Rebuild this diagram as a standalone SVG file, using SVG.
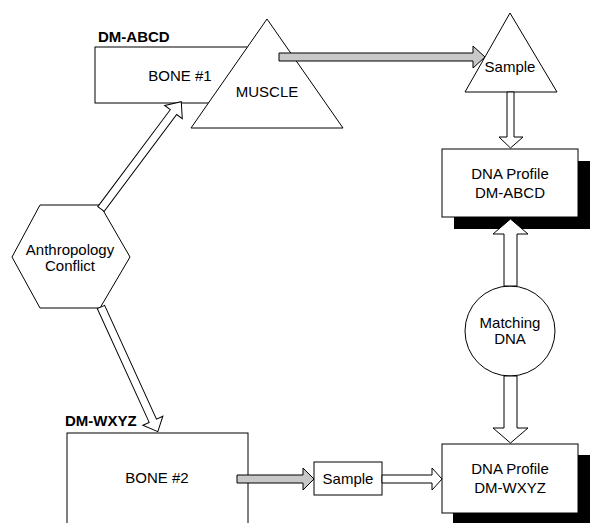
<svg xmlns="http://www.w3.org/2000/svg" width="590" height="523" viewBox="0 0 590 523">
<style>
.s{fill:#fff;stroke:#000;stroke-width:1}
.g{fill:#c8c8c8;stroke:#000;stroke-width:1}
.w{fill:#fff;stroke:#000;stroke-width:1}
.sh{fill:#000}
text{font-family:"Liberation Sans",Arial,sans-serif;font-size:15px;fill:#000;text-anchor:middle}
.lbl{font-weight:bold;text-anchor:start}
</style>
<rect width="590" height="523" fill="#fff"/>
<g id="bone1">
<rect class="s" x="95" y="47" width="170" height="56"/>
<text x="180" y="81">BONE #1</text>
</g>
<g id="label-abcd"><text class="lbl" x="98" y="42">DM-ABCD</text></g>
<g id="muscle">
<polygon class="s" points="267,19 191,128 343,128"/>
<text x="267" y="97">MUSCLE</text>
</g>
<g id="sample1">
<polygon class="s" points="510,13 465,92 557,92"/>
<text x="510" y="72">Sample</text>
</g>
<g id="dna-abcd">
<rect class="sh" x="454" y="161" width="136" height="68"/>
<rect class="s" x="442" y="149" width="136" height="68"/>
<text x="510" y="179">DNA Profile</text>
<text x="510" y="198">DM-ABCD</text>
</g>
<g id="anthropology">
<polygon class="s" points="40,205 100,205 130,257 100,308 40,308 12,257"/>
<text x="70" y="255">Anthropology</text>
<text x="70" y="271">Conflict</text>
</g>
<g id="matching">
<circle class="s" cx="510" cy="331" r="45"/>
<text x="510" y="328">Matching</text>
<text x="510" y="344">DNA</text>
</g>
<g id="bone2">
<rect class="s" x="67" y="433" width="181" height="110"/>
<text x="157" y="483">BONE #2</text>
</g>
<g id="label-wxyz"><text class="lbl" x="65" y="426">DM-WXYZ</text></g>
<g id="sample2">
<rect class="s" x="314" y="462" width="68" height="33"/>
<text x="348" y="484">Sample</text>
</g>
<g id="dna-wxyz">
<rect class="sh" x="453" y="455" width="137" height="70"/>
<rect class="s" x="442" y="444" width="136" height="69"/>
<text x="510" y="474">DNA Profile</text>
<text x="510" y="493">DM-WXYZ</text>
</g>
<g id="connectors">
<polygon class="g" points="279,53 473,53 473,46 485,57 473,68 473,61 279,61"/>
<polygon class="w" points="507,92 514,92 514,137 523,137 510.5,148 499,137 507,137"/>
<polygon class="w" points="504,286 517,286 517,234 528,234 510.5,219 493,234 504,234"/>
<polygon class="w" points="504,376 517,376 517,428 528,428 510.5,443 493,428 504,428"/>
<polygon class="g" points="237,475 303,475 303,468 314,479 303,490 303,483 237,483"/>
<polygon class="w" points="382,475 432,475 432,468 442,479 432,490 432,483 382,483"/>
<polygon class="w" transform="translate(101,209) rotate(-53.2)" points="0,-4 121,-4 121,-11 134,0 121,11 121,4 0,4"/>
<polygon class="w" transform="translate(101,307) rotate(65.5)" points="0,-4 125,-4 125,-11 137,0 125,11 125,4 0,4"/>
</g>
</svg>
